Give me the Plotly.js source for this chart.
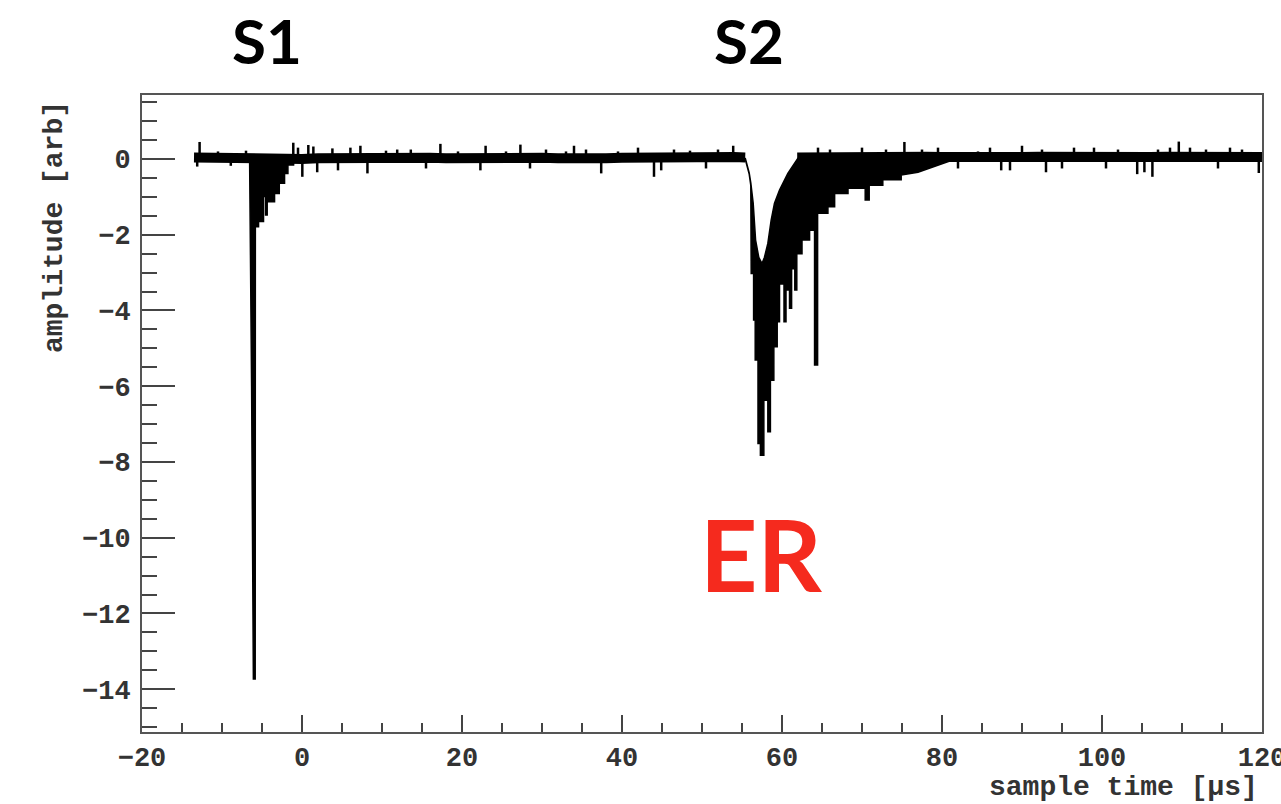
<!DOCTYPE html>
<html>
<head>
<meta charset="utf-8">
<script src="https://cdn.plot.ly/plotly-3.0.1.min.js"></script>
<style>html,body{margin:0;padding:0;background:#fff;}#chart{width:1281px;height:804px;}</style>
</head>
<body>
<div id="chart"></div>
<script>
// ---- baseline of the waveform (sample time in µs, amplitude in arb) ----
const baseTime1 = [-13.5,-12,-10,-8,-6,-4,-2,0,2,4,6,8,10,12,14,16,18,20,22,24,26,28,30,32,34,36,38,40,42,44,46,48,50,52,54,55.4];
const baseAmp1  = [0.04,0.03,0.05,0.04,0.03,0.02,0.01,0.0,0.02,0.03,0.02,0.04,0.02,0.03,0.04,0.03,0.02,0.03,0.04,0.02,0.03,0.05,0.03,0.02,0.04,0.03,0.02,0.03,0.04,0.02,0.03,0.04,0.03,0.04,0.05,0.04];
const baseTime2 = [61.9,64,66,68,70,72,74,76,78,80,82,84,86,88,90,92,94,96,98,100,102,104,106,108,110,112,114,116,118,120];
const baseAmp2  = [0.04,0.05,0.06,0.05,0.06,0.05,0.06,0.05,0.06,0.05,0.04,0.05,0.06,0.04,0.05,0.06,0.05,0.04,0.05,0.06,0.05,0.04,0.05,0.06,0.05,0.06,0.05,0.04,0.05,0.05];

// ---- noise spikes on the baseline (time, tip amplitude) ----
const spikeTime = [-12.8,-13.1,-10.5,-8.9,-7.0,-1.09,-0.5,0.04,0.79,1.42,1.9,3.8,4.5,6.05,7.3,8.18,10.5,11.9,13.6,15.5,17.3,19.5,22.3,22.95,25.5,27.3,28.5,30.5,33.0,34.0,35.5,37.4,39.5,42.0,44.0,44.9,46.5,48.5,50.5,52.0,53.9,64.5,66.0,70.0,73.0,75.3,77.5,79.5,82.0,84.5,86.0,87.4,88.5,90.0,92.5,93.0,95.0,96.5,99.0,100.5,102.0,104.4,105.3,106.3,107.0,108.5,109.6,111.0,113.0,114.5,116.0,117.5,119.6];
const spikeAmp  = [0.45,-0.2,0.2,-0.18,0.22,0.43,0.3,-0.47,0.37,0.33,-0.35,0.28,-0.3,0.3,0.35,-0.38,0.22,0.25,0.25,-0.25,0.4,0.2,-0.3,0.35,0.2,0.38,-0.25,0.25,0.2,0.35,0.25,-0.38,0.2,0.3,-0.47,-0.3,0.25,0.22,-0.25,0.25,0.35,0.3,0.25,0.3,0.25,0.45,0.25,0.3,-0.25,0.2,0.3,-0.3,-0.3,0.35,0.25,-0.35,-0.25,0.3,0.3,-0.25,0.25,-0.4,-0.35,-0.47,0.25,0.3,0.46,0.3,0.25,-0.25,0.3,0.25,-0.37];

// ---- S1 pulse: lower edge (left to right) ----
const s1Time = [-6.55,-6.47,-6.3,-6.08,-5.85,-5.83,-5.43,-5.43,-4.81,-4.81,-4.55,-4.55,-4.35,-4.35,-3.43,-3.43,-2.84,-2.84,-2.18,-2.18,-1.76,-1.76,-1.05,-1.0];
const s1Amp  = [0.0,-3.0,-6.0,-13.73,-13.73,-1.79,-1.79,-1.65,-1.65,-0.99,-0.99,-1.48,-1.48,-1.13,-1.13,-0.91,-0.91,-0.64,-0.64,-0.38,-0.38,-0.16,-0.16,0.03];

// ---- S2 pulse: upper edge (left to right) ----
const s2UpTime = [55.4,55.9,56.1,56.4,56.7,57.1,57.5,57.8,58.23,58.65,59.06,59.69,60.73,61.99,70,81];
const s2UpAmp  = [0.03,-0.37,-0.63,-1.17,-2.14,-2.6,-2.76,-2.6,-2.23,-1.61,-1.17,-0.82,-0.38,0.02,0.03,0.03];
// ---- S2 pulse: lower edge (left to right) ----
const s2LowTime = [55.4,55.9,56.1,56.15,56.45,56.45,56.65,56.65,57.0,57.0,57.3,57.3,57.73,57.73,58.23,58.23,58.55,58.55,58.98,58.98,59.4,59.4,59.69,59.69,60.25,60.25,60.5,60.5,60.94,60.94,61.2,61.2,61.6,61.6,61.85,61.85,62.5,62.5,63.45,63.45,64.07,64.07,64.45,64.45,65.74,65.74,66.58,66.58,68.25,68.25,70.4,70.4,70.9,70.9,72.6,72.6,74.9,74.9,77.0,79.0,81.0];
const s2LowAmp  = [0.0,-0.4,-0.7,-3.02,-3.02,-4.25,-4.25,-5.31,-5.31,-7.51,-7.51,-7.82,-7.82,-6.37,-6.37,-7.2,-7.2,-5.84,-5.84,-4.96,-4.96,-4.3,-4.3,-3.3,-3.3,-4.3,-4.3,-3.46,-3.46,-3.94,-3.94,-2.9,-2.9,-3.46,-3.46,-2.5,-2.5,-2.14,-2.14,-1.88,-1.88,-5.44,-5.44,-1.43,-1.43,-1.26,-1.26,-0.91,-0.91,-0.77,-0.77,-1.08,-1.08,-0.69,-0.69,-0.55,-0.55,-0.42,-0.35,-0.2,-0.05];

const BASE = 0.03;

// build polygons / segments from the arrays
const s1X = s1Time.concat([-1.0, -6.55]);
const s1Y = s1Amp.concat([BASE, BASE]);
const s2X = s2UpTime.concat(s2LowTime.slice().reverse());
const s2Y = s2UpAmp.concat(s2LowAmp.slice().reverse());
const spX = [], spY = [];
spikeTime.forEach((t, i) => { spX.push(t, t, null); spY.push(BASE, spikeAmp[i], null); });

const traces = [
  {x: s1X, y: s1Y, type: 'scatter', mode: 'lines', fill: 'toself', fillcolor: '#000',
   line: {color: '#000', width: 1.5}, hoverinfo: 'skip'},
  {x: s2X, y: s2Y, type: 'scatter', mode: 'lines', fill: 'toself', fillcolor: '#000',
   line: {color: '#000', width: 1.5}, hoverinfo: 'skip'},
  {x: baseTime1.concat([null], baseTime2), y: baseAmp1.concat([null], baseAmp2), type: 'scatter', mode: 'lines',
   line: {color: '#000', width: 10}, connectgaps: false, hoverinfo: 'skip'},
  {x: spX, y: spY, type: 'scatter', mode: 'lines', line: {color: '#000', width: 2.5}, connectgaps: false, hoverinfo: 'skip'}
];

const tickFont = {family: 'Liberation Mono, DejaVu Sans Mono, monospace', size: 27, color: '#333', weight: 'bold'};
const titleFont = {family: 'Liberation Mono, DejaVu Sans Mono, monospace', size: 28, color: '#333', weight: 'bold'};
const layout = {
  width: 1281, height: 804,
  margin: {l: 142, r: 19, t: 95, b: 72, pad: 0},
  paper_bgcolor: '#fff', plot_bgcolor: '#fff',
  showlegend: false,
  xaxis: {
    range: [-20, 120], tick0: 0, dtick: 20, ticks: 'inside', ticklen: 17, tickwidth: 2, tickcolor: '#444',
    minor: {dtick: 5, ticks: 'inside', ticklen: 9, tickwidth: 2, tickcolor: '#444'},
    showline: true, linecolor: '#555', linewidth: 2, mirror: true,
    showgrid: false, zeroline: false, tickfont: tickFont, ticklabelstandoff: 0,
    ticklabeloverflow: 'allow'
  },
  yaxis: {
    range: [-15.13, 1.69], tick0: 0, dtick: 2, ticks: 'inside', ticklen: 33, tickwidth: 2, tickcolor: '#444',
    minor: {dtick: 0.5, ticks: 'inside', ticklen: 15, tickwidth: 2, tickcolor: '#444'},
    showline: true, linecolor: '#555', linewidth: 2, mirror: true,
    showgrid: false, zeroline: false, tickfont: tickFont, ticklabelstandoff: 4
  },
  annotations: [
    {text: 'amplitude [arb]', xref: 'paper', yref: 'paper', x: -0.0786, y: 0.9937, xanchor: 'center', yanchor: 'top',
     textangle: -90, showarrow: false, font: titleFont},
    {text: 'sample time [µs]', xref: 'paper', yref: 'paper', x: 0.9982, y: -0.0875, xanchor: 'right', yanchor: 'middle',
     showarrow: false, font: titleFont},
    {text: 'S1', xref: 'x', yref: 'paper', x: -4.38, y: 1.086, xanchor: 'center', yanchor: 'middle', showarrow: false,
     font: {family: 'Lato, Open Sans, sans-serif', size: 62, color: '#000', weight: 'bold'}},
    {text: 'S2', xref: 'x', yref: 'paper', x: 55.83, y: 1.086, xanchor: 'center', yanchor: 'middle', showarrow: false,
     font: {family: 'Lato, Open Sans, sans-serif', size: 62, color: '#000', weight: 'bold'}},
    {text: 'ER', xref: 'x', yref: 'y', x: 57.4, y: -10.4, xanchor: 'center', yanchor: 'middle', showarrow: false,
     font: {family: 'Lato, Open Sans, sans-serif', size: 100, color: '#f52a1e', weight: 'bold'}}
  ]
};

Plotly.newPlot('chart', traces, layout, {staticPlot: true, displayModeBar: false});
</script>
</body>
</html>
